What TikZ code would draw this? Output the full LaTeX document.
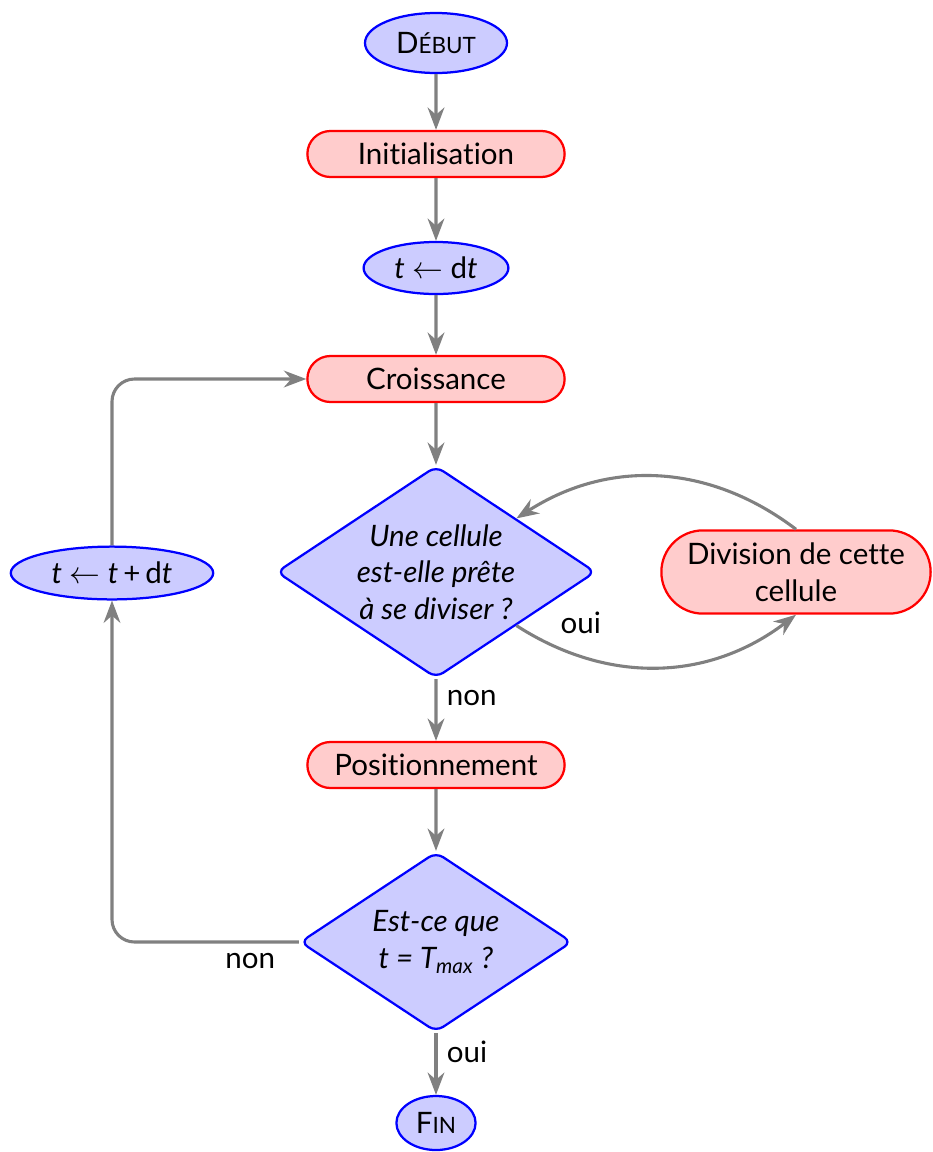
\documentclass[tikz,border=0pt]{standalone}
\usepackage{fontspec}
\setmainfont{Lato}[Ligatures=CommonOff]
\usetikzlibrary{arrows.meta, shapes.geometric, shapes.misc}
\definecolor{flowgray}{RGB}{128,128,128}
\newcommand{\petitcap}[1]{{\fontsize{8}{9}\selectfont #1}}

\begin{document}
\begin{tikzpicture}[>=Stealth, font=\fontsize{10.5}{13}\selectfont,
    terminal/.style={ellipse, draw=blue, fill=blue!20, thick, inner sep=0pt},
    process/.style={rounded rectangle, draw=red, fill=red!20, thick, minimum width=3.45cm, minimum height=0.575cm, align=center},
    decision/.style={diamond, draw=blue, fill=blue!20, thick, rounded corners=3pt, aspect=1.5, inner sep=0pt, align=center, font=\fontsize{10.5}{13}\selectfont\itshape},
    flow/.style={->, draw=flowgray, line width=1.1pt}]
    \useasboundingbox (0,0) rectangle (11.65,-14.4);

    % Main column
    \node[terminal, minimum width=1.775cm, minimum height=0.75cm] (debut) at (5.45,-0.5375) {D\petitcap{ÉBUT}};
    \node[process] (init) at (5.45,-1.925) {Initialisation};
    \node[terminal, minimum width=1.81cm, minimum height=0.65cm] (tinit) at (5.45,-3.35) {\textit{t} $\leftarrow$ d\textit{t}};
    \node[process] (croiss) at (5.45,-4.7375) {Croissance};
    \node[decision, minimum width=3.99cm, minimum height=2.65cm] (prete) at (5.45,-7.15) {Une cellule\\est-elle prête\\à se diviser ?};
    \node[process] (posit) at (5.45,-9.5625) {Positionnement};
    \node[decision, minimum width=3.4cm, minimum height=2.25cm] (tmax) at (5.45,-11.775) {Est-ce que\\t = T\textsubscript{max} ?};
    \node[terminal, minimum width=0.99cm, minimum height=0.675cm] (fin) at (5.45,-14.0375) {F\petitcap{IN}};

    % Side nodes
    \node[process, minimum width=3.6cm, minimum height=1.04cm] (divis) at (9.95,-7.15) {Division de cette\\cellule};
    \node[terminal, minimum width=2.53cm, minimum height=0.66cm] (incr) at (1.4,-7.1625) {\textit{t} $\leftarrow$ \textit{t}\,+\,d\textit{t}};

    % Connectors
    \draw[flow] (debut) -- (init);
    \draw[flow] (init) -- (tinit);
    \draw[flow] (tinit) -- (croiss);
    \draw[flow] (croiss) -- (prete);
    \draw[flow] (prete) -- node[pos=0.3, right] {non} (posit);
    \draw[flow] (posit) -- (tmax);
    \draw[flow] (tmax) -- node[pos=0.3, right] {oui} (fin);

    % Division loop
    \draw[flow] (prete.south east) to[bend right=35] node[pos=0.12, above right] {oui} (divis.south);
    \draw[flow] (divis.north) to[bend right=35] (prete.north east);

    % Time loop
    \draw[flow, rounded corners=8pt] (tmax.west) -| node[pos=0.13, below] {non} (incr.south);
    \draw[flow, rounded corners=8pt] (incr.north) |- (croiss.west);
\end{tikzpicture}
\end{document}
